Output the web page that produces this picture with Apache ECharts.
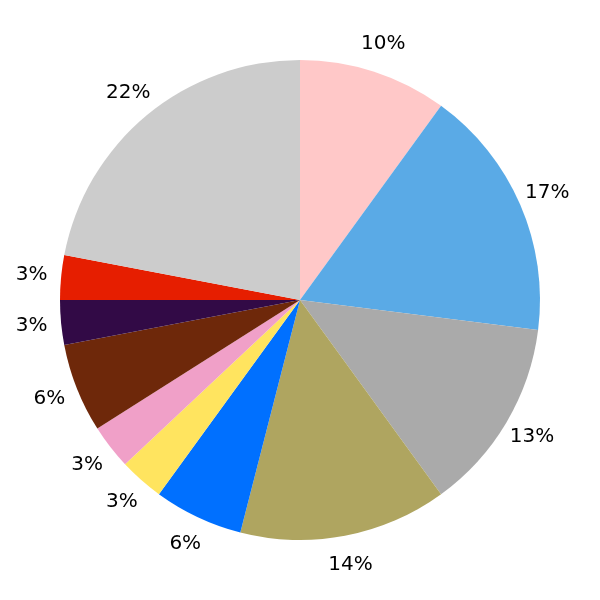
<!DOCTYPE html>
<html>
<head>
<meta charset="utf-8">
<script src="https://cdn.jsdelivr.net/npm/echarts@6/dist/echarts.min.js"></script>
<style>
html,body{margin:0;padding:0;background:#fff;}
#chart{width:600px;height:600px;}
</style>
</head>
<body>
<div id="chart"></div>
<script>
const categories = ['A','B','C','D','E','F','G','H','I','J','K'];
const values = [10, 17, 13, 14, 6, 3, 3, 6, 3, 3, 22];
const colors = ['#FFC8C8','#5AAAE6','#AAAAAA','#AFA560','#0070FF','#FFE45F','#F0A0C8','#6E280A','#320A46','#E61E00','#CCCCCC'];

const pieData = categories.map((c, i) => ({ name: c, value: values[i], itemStyle: { color: colors[i] } }));
const labelData = categories.map((c, i) => ({ name: c, value: values[i] }));

const chart = echarts.init(document.getElementById('chart'), null, { renderer: 'canvas' });
chart.setOption({
  backgroundColor: '#ffffff',
  animation: false,
  series: [
    {
      type: 'pie',
      center: [300, 300],
      radius: [0, 240],
      startAngle: 90,
      clockwise: true,
      percentPrecision: 0,
      silent: true,
      itemStyle: { borderWidth: 0 },
      label: { show: false },
      labelLine: { show: false },
      data: pieData
    },
    {
      type: 'pie',
      center: [300, 300],
      radius: [240, 293],
      startAngle: 90,
      clockwise: true,
      percentPrecision: 0,
      silent: true,
      itemStyle: { color: 'rgba(0,0,0,0)', borderWidth: 0 },
      label: {
        show: true,
        position: 'inside',
        formatter: '{d}%',
        fontFamily: 'DejaVu Sans',
        fontSize: 20,
        color: '#000000'
      },
      labelLine: { show: false },
      data: labelData
    }
  ]
});
</script>
</body>
</html>
